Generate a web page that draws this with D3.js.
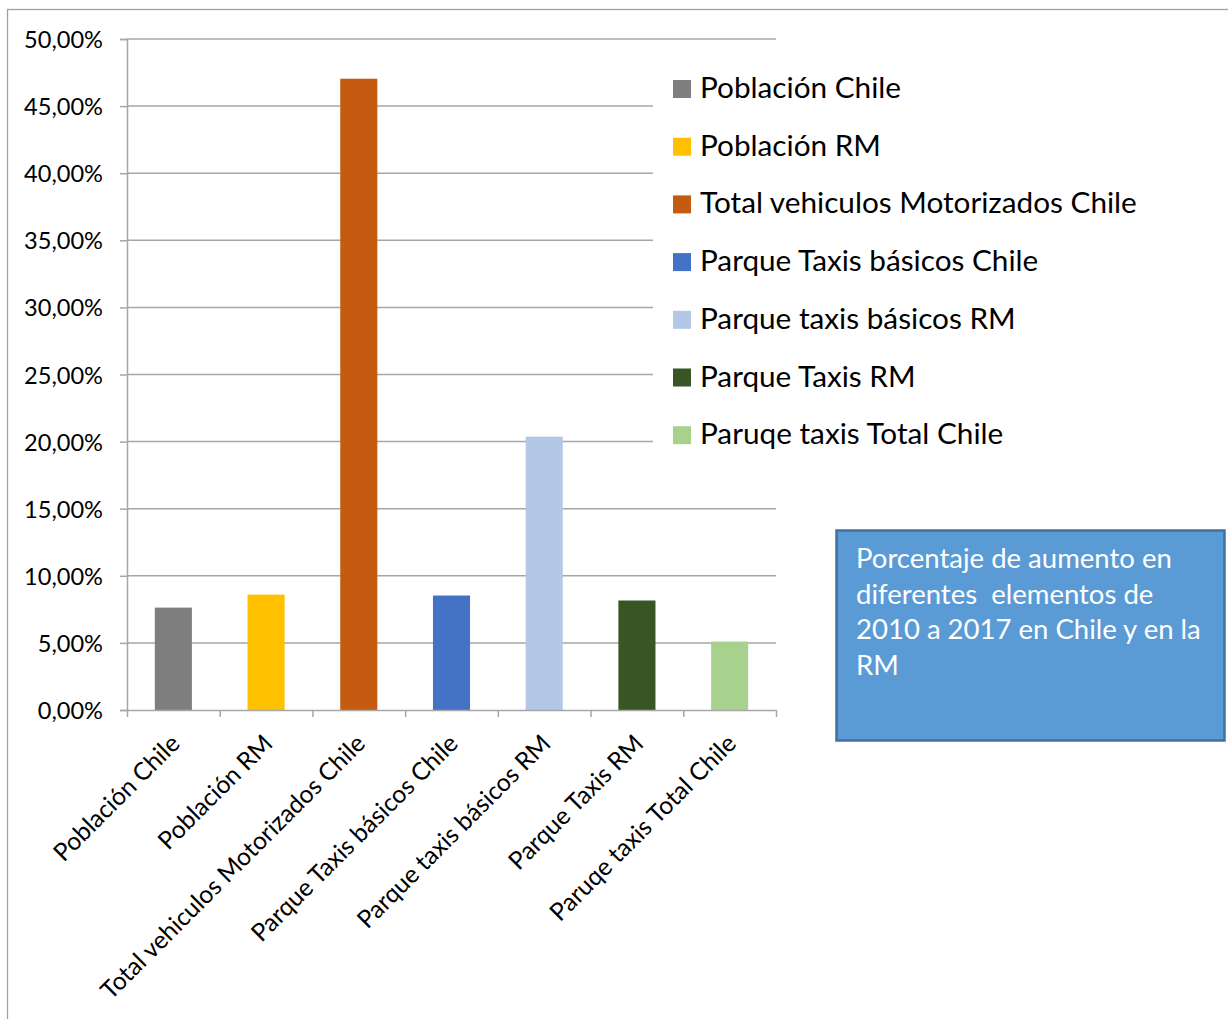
<!DOCTYPE html>
<html>
<head>
<meta charset="utf-8">
<script src="https://cdn.jsdelivr.net/npm/d3@7"></script>
<style>
  html, body { margin: 0; padding: 0; background: #fff; }
  svg { display: block; }
  text { font-family: Lato, "Open Sans", sans-serif; }
</style>
</head>
<body>
<svg id="chart" width="1228" height="1019"></svg>
<script>
// ---- data ----
const categories = [
  "Población Chile",
  "Población RM",
  "Total vehiculos Motorizados Chile",
  "Parque Taxis básicos Chile",
  "Parque taxis básicos RM",
  "Parque Taxis RM",
  "Paruqe taxis Total Chile"
];
const values = [0.0763, 0.0860, 0.4704, 0.0853, 0.2037, 0.0816, 0.0510];
const colors = ["#7f7f7f", "#ffc000", "#c55a11", "#4472c4", "#b4c7e7", "#375623", "#a9d18e"];
const yTicks = [0, 0.05, 0.10, 0.15, 0.20, 0.25, 0.30, 0.35, 0.40, 0.45, 0.50];
const boxLines = [
  "Porcentaje de aumento en",
  "diferentes  elementos de",
  "2010 a 2017 en Chile y en la",
  "RM"
];

// ---- layout ----
const svg = d3.select("#chart");
const plot = { left: 127, right: 776, top: 39, bottom: 710 };

// outer chart border
svg.append("rect")
  .attr("x", 7.5).attr("y", 9.5).attr("width", 1240).attr("height", 1040)
  .attr("fill", "none").attr("stroke", "#a0a0a0").attr("stroke-width", 1.3);

const x = d3.scaleBand().domain(categories).range([plot.left, plot.right])
  .paddingInner(0.6).paddingOuter(0.3);
const xTickScale = d3.scaleLinear().domain([0, categories.length]).range([plot.left, plot.right]);
const y = d3.scaleLinear().domain([0, 0.5]).range([plot.bottom, plot.top]);

// fit font size so a string has the target width
function fitSize(sample, target, base) {
  const t = svg.append("text").attr("font-size", base).text(sample);
  const w = t.node().getComputedTextLength();
  t.remove();
  return base * target / w;
}
const yFont = fitSize("50,00%", 79, 20);
const legFont = fitSize("Total vehiculos Motorizados Chile", 437, 20);
const xFont = fitSize("Total vehiculos Motorizados Chile", 362, 20);
const boxFont = fitSize("Porcentaje de aumento en", 316, 20);

// gridlines
svg.append("g").selectAll("line").data(yTicks.filter(d => d > 0)).join("line")
  .attr("x1", plot.left).attr("x2", plot.right)
  .attr("y1", d => y(d)).attr("y2", d => y(d))
  .attr("stroke", "#a6a6a6").attr("stroke-width", 1.5);

// y axis
const fmt = d => d3.format(".2f")(d * 100).replace(".", ",") + "%";
const yAxis = d3.axisLeft(y).tickValues(yTicks).tickFormat(fmt).tickSize(7).tickPadding(17);
const gy = svg.append("g").attr("transform", `translate(${plot.left},0)`).call(yAxis);
gy.select(".domain").attr("stroke", "#a6a6a6").attr("stroke-width", 1.5);
gy.selectAll(".tick line").attr("stroke", "#a6a6a6").attr("stroke-width", 1.5);
gy.selectAll(".tick text").attr("font-size", yFont).attr("fill", "#000")
  .attr("font-family", "Lato, sans-serif").attr("dy", "0.36em");

// bars
svg.append("g").selectAll("rect").data(values).join("rect")
  .attr("x", (d, i) => x(categories[i]))
  .attr("width", x.bandwidth())
  .attr("y", d => y(d))
  .attr("height", d => y(0) - y(d))
  .attr("fill", (d, i) => colors[i]);

// x axis line + ticks
const xAxis = d3.axisBottom(xTickScale).tickValues(d3.range(categories.length + 1))
  .tickFormat("").tickSize(7).tickSizeOuter(0);
const gx = svg.append("g").attr("transform", `translate(0,${plot.bottom})`).call(xAxis);
gx.select(".domain").attr("stroke", "#a6a6a6").attr("stroke-width", 1.5);
gx.selectAll(".tick line").attr("stroke", "#a6a6a6").attr("stroke-width", 1.5);

// x labels rotated
svg.append("g").selectAll("text").data(categories).join("text")
  .attr("transform", d => `translate(${x(d) + x.bandwidth() / 2 + 8},${plot.bottom + 35}) rotate(-45)`)
  .attr("text-anchor", "end")
  .attr("font-size", xFont)
  .attr("fill", "#000")
  .text(d => d);

// legend (white background hides gridlines behind it)
const leg = svg.append("g");
leg.append("rect").attr("x", 653).attr("y", 56).attr("width", 500).attr("height", 405)
  .attr("fill", "#fff");
const legItems = leg.selectAll("g").data(categories).join("g")
  .attr("transform", (d, i) => `translate(673,${80 + i * 57.7})`);
legItems.append("rect").attr("width", 18).attr("height", 18)
  .attr("fill", (d, i) => colors[i]);
legItems.append("text").attr("x", 27).attr("y", 18)
  .attr("font-size", legFont).attr("fill", "#000").text(d => d);

// text box
svg.append("rect")
  .attr("x", 836.5).attr("y", 530.5).attr("width", 388).attr("height", 210)
  .attr("fill", "#5b9bd5").attr("stroke", "#41719c").attr("stroke-width", 2.5);
svg.append("g").selectAll("text").data(boxLines).join("text")
  .attr("x", 856).attr("y", (d, i) => 568 + i * 35.7)
  .attr("font-size", boxFont).attr("fill", "#fff")
  .attr("xml:space", "preserve").style("white-space", "pre")
  .text(d => d);
</script>
</body>
</html>
